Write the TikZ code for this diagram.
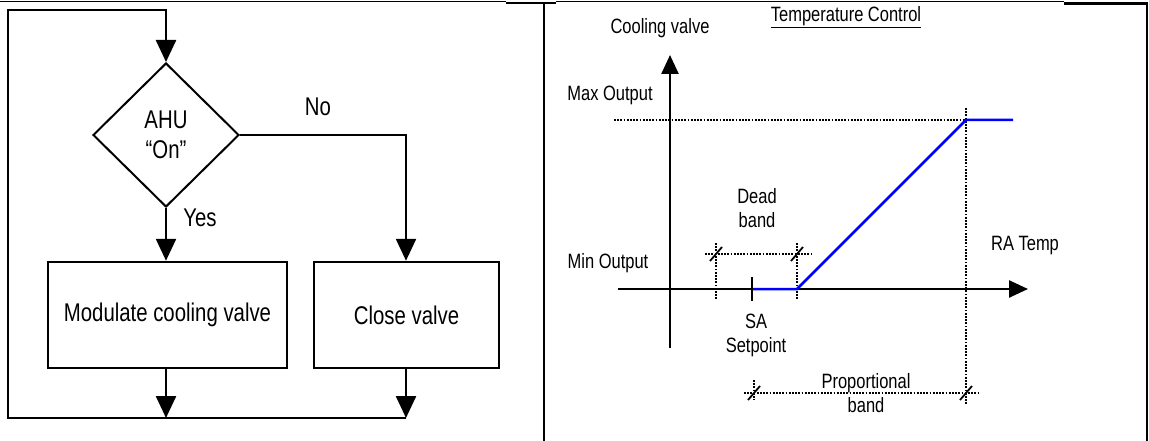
\documentclass[tikz,border=0pt]{standalone}
\usepackage{fontspec}
\setmainfont{Liberation Sans}
\usetikzlibrary{positioning,arrows.meta,shapes.geometric}
\definecolor{bblue}{RGB}{0,0,255}
\newcommand{\tl}[1]{\scalebox{0.97}[1.22]{#1}}
\tikzset{
  dec/.style={diamond, draw, line width=2pt, minimum width=146pt, minimum height=144pt, inner sep=0pt, align=center, font=\fontsize{21}{30}\selectfont},
  box/.style={rectangle, draw, line width=2.5pt, minimum height=106pt, font=\fontsize{21}{25}\selectfont},
  fl/.style={-{Triangle[length=22pt,width=20pt]}, line width=2.5pt},
  lbl/.style={inner sep=0pt, font=\fontsize{21}{25}\selectfont},
  sm/.style={inner sep=0pt, font=\fontsize{17}{21}\selectfont},
  ax/.style={-{Triangle[length=19pt,width=17pt]}, line width=2.5pt},
  dt/.style={line width=2pt, dash pattern=on 1.8pt off 1.4pt},
  crv/.style={bblue, line width=2.5pt},
  tk/.style={line width=1.8pt},
  frm/.style={line width=1pt}
}

\begin{document}
\begin{tikzpicture}[x=1pt,y=-1pt]
  \useasboundingbox (0,0) rectangle (1149,441);
  % frame
  \draw[frm] (0,2) -- (506,2);
  \draw[line width=2.5pt] (506,3) -- (556,3);
  \draw[line width=2.5pt] (544,3) -- (544,441);
  \draw[frm] (556,2) -- (1064,2);
  \draw[line width=2.5pt] (1064,3.5) -- (1147,3.5) -- (1147,441);

  % flow chart
  \node[dec] (ahu) at (166,135) {\tl{AHU}\\\tl{“On”}};
  \node[box, minimum width=239pt] (mod) at (167.5,315) {\tl{Modulate cooling valve}};
  \node[box, minimum width=185pt] (cls) at (406.5,315) {\tl{Close valve}};
  \coordinate (j1) at (166,418);
  \coordinate (j2) at (406,418);
  \draw[fl] (ahu.south) -- (ahu.south |- mod.north);
  \draw[fl] (ahu.east) -| (j2 |- cls.north);
  \draw[fl] (ahu.south |- mod.south) -- (j1);
  \draw[fl] (j2 |- cls.south) -- (j2);
  \draw[fl] (j2) -- (8,418) -- (8,10) -| (ahu.north);
  \node[lbl] (no) at (318,107) {\tl{No}};
  \node[lbl] (yes) at (200,218) {\tl{Yes}};

  % control chart
  \coordinate (o) at (670,289);
  \coordinate (sp) at (752,289);
  \coordinate (db) at (797,289);
  \coordinate (mx) at (966,120);
  \coordinate (mxe) at (1013,120);
  \draw[ax] (670,348) -- (670,55);
  \draw[ax] (618,289) -- (1028,289);
  \draw[dt] (614,120) -- (mx);
  \draw[dt] (716,243) -- (716,300);
  \draw[dt] (db) ++(0,-46) -- ++(0,57);
  \draw[dt] (966,108) -- (966,405);
  \draw[dt] (754,380) -- (754,400);
  \draw[dt] (705,254) -- (812,254);
  \draw[dt] (744,393) -- (978,393);
  \draw[tk] (716,254) ++(-6,7) -- ++(12,-14);
  \draw[tk] (797,254) ++(-6,7) -- ++(12,-14);
  \draw[tk] (754,393) ++(-6,7) -- ++(12,-14);
  \draw[tk] (966,393) ++(-6,7) -- ++(12,-14);
  \draw[crv] (sp) -- (db) -- (mx) -- (mxe);
  \draw[line width=2.5pt] (sp) ++(0,-12) -- ++(0,24);
  \node[sm] (ttl) at (846,17) {\underline{\tl{Temperature Control}}};
  \node[sm] (cv) at (660,28) {\tl{Cooling valve}};
  \node[sm] (mxo) at (610,95) {\tl{Max Output}};
  \node[sm] (mno) at (608,263) {\tl{Min Output}};
  \node[sm, align=center, font=\fontsize{17}{24}\selectfont] (dbl) at (757,208) {\tl{Dead}\\\tl{band}};
  \node[sm] (ra) at (1025,246) {\tl{RA Temp}};
  \node[sm, align=center, font=\fontsize{17}{24}\selectfont] (spl) at (756,335) {\tl{SA}\\\tl{Setpoint}};
  \node[sm, align=center, font=\fontsize{17}{24}\selectfont] (pb) at (866,393) {\tl{Proportional}\\\tl{band}};
\end{tikzpicture}
\end{document}
